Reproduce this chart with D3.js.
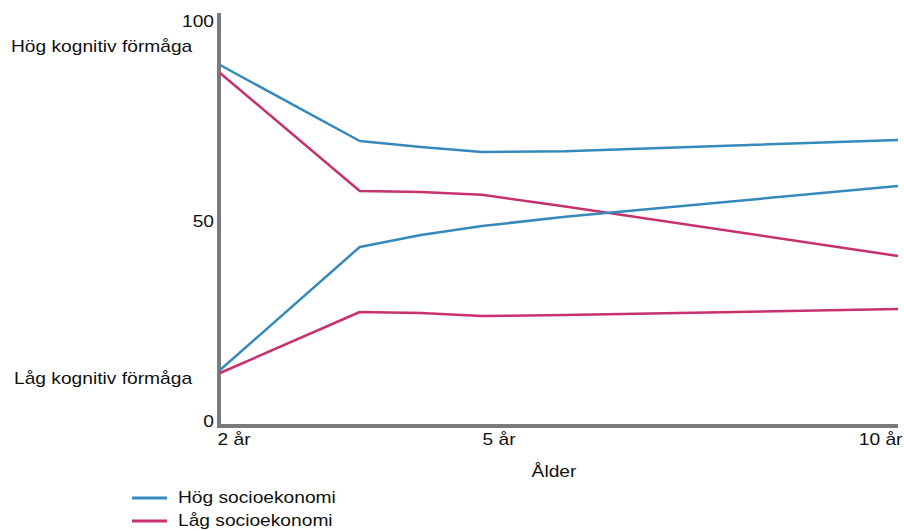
<!DOCTYPE html>
<html>
<head>
<meta charset="utf-8">
<script src="https://cdn.jsdelivr.net/npm/d3@7"></script>
<style>
  body { margin: 0; background: #fff; }
  text { font-family: "Liberation Sans", Arial, sans-serif; fill: #111; }
</style>
</head>
<body>
<div id="chart-area"></div>
<script>
// data (ages in years, score 0-100)
let ages = [2, 3.6, 4.3, 5, 6, 10];
let hogKognHogSes = [88.75, 69.75, 68.25, 67, 67.2, 70];
let hogKognLagSes = [86.75, 57.25, 57, 56.3, 53.4, 41];
let lagKognHogSes = [12.5, 43.25, 46.25, 48.5, 50.8, 58.5];
let lagKognLagSes = [11.75, 27, 26.75, 26, 26.25, 27.75];

let xTicks = [2, 5, 10];
let yTicks = [0, 50, 100];
let sideLabels = ["Hög kognitiv förmåga", "Låg kognitiv förmåga"];
let legendLabels = ["Hög socioekonomi", "Låg socioekonomi"];
let xTitle = "Ålder";

let blue = "#3589bb";
let pink = "#c8306e";
let stretch = 1.2;   // text in the picture is a bit wide

let width = 904, height = 531;

let svg = d3.select("#chart-area").append("svg")
    .attr("width", width)
    .attr("height", height);

// scales - x is piecewise so 5 år lands where it does in the picture
let x = d3.scaleLinear()
    .domain([2, 5, 10])
    .range([220, 482, 898]);

let y = d3.scaleLinear()
    .domain([0, 100])
    .range([420, 20]);

// axis lines (thick grey), a little longer than the value range
svg.append("line")
    .attr("x1", x(2) - 1).attr("x2", x(2) - 1)
    .attr("y1", y(100) - 7).attr("y2", y(0) + 8)
    .attr("stroke", "#7b7b7b").attr("stroke-width", 4);

svg.append("line")
    .attr("x1", x(2) - 3).attr("x2", x(10))
    .attr("y1", y(0) + 6).attr("y2", y(0) + 6)
    .attr("stroke", "#7b7b7b").attr("stroke-width", 4);

// y axis tick labels
let yAxis = svg.append("g")
    .attr("transform", "translate(" + (x(2) - 6) + ",0)")
    .call(d3.axisLeft(y).tickValues(yTicks).tickSize(0).tickPadding(0));
yAxis.select(".domain").remove();
yAxis.selectAll("text")
    .attr("x", 0)
    .attr("dy", "0.4em")
    .attr("font-size", 16)
    .attr("font-family", null)
    .attr("transform", "scale(" + stretch + ",1)");

// x axis tick labels
let xAxis = svg.append("g")
    .attr("transform", "translate(0," + (y(0) + 8) + ")")
    .call(d3.axisBottom(x).tickValues(xTicks).tickSize(0).tickPadding(0)
        .tickFormat(d => d + " år"));
xAxis.select(".domain").remove();
xAxis.selectAll("text")
    .attr("y", 0)
    .attr("dy", "1.05em")
    .attr("font-size", 16)
    .attr("font-family", null)
    .attr("text-anchor", d => d == 10 ? "end" : "start")
    .attr("transform", d => "translate(" + (d == 10 ? 4 : d == 2 ? -3 : 0) + ",0) scale(" + stretch + ",1)");

// axis title
svg.append("text")
    .attr("transform", "translate(" + (x(5) + 72) + "," + (y(0) + 57) + ") scale(" + stretch + ",1)")
    .attr("text-anchor", "middle")
    .attr("font-size", 16)
    .text(xTitle);

// labels at the side of the y axis
svg.selectAll(".side-label")
    .data(sideLabels)
    .enter()
    .append("text")
    .attr("class", "side-label")
    .attr("transform", (d, i) => "translate(" + (i == 0 ? 11 : 14) + "," + y(i == 0 ? 92 : 9) + ") scale(" + stretch + ",1)")
    .attr("font-size", 16)
    .text(d => d);

// lines
let series = [
    {values: hogKognHogSes, color: blue},
    {values: hogKognLagSes, color: pink},
    {values: lagKognHogSes, color: blue},
    {values: lagKognLagSes, color: pink}
];

let line = d3.line()
    .x((d, i) => x(ages[i]))
    .y(d => y(d));

svg.selectAll(".line")
    .data(series)
    .enter()
    .append("path")
    .attr("class", "line")
    .attr("fill", "none")
    .attr("stroke", d => d.color)
    .attr("stroke-width", 2.5)
    .attr("stroke-linejoin", "round")
    .attr("d", d => line(d.values));

// legend
let legend = svg.selectAll(".legend")
    .data(legendLabels)
    .enter()
    .append("g")
    .attr("class", "legend")
    .attr("transform", (d, i) => "translate(132," + (498 + i * 23) + ")");

legend.append("line")
    .attr("x1", 0).attr("x2", 35)
    .attr("stroke", (d, i) => i == 0 ? blue : pink)
    .attr("stroke-width", 3);

legend.append("text")
    .attr("transform", "translate(46,5) scale(" + stretch + ",1)")
    .attr("font-size", 16)
    .text(d => d);
</script>
</body>
</html>
